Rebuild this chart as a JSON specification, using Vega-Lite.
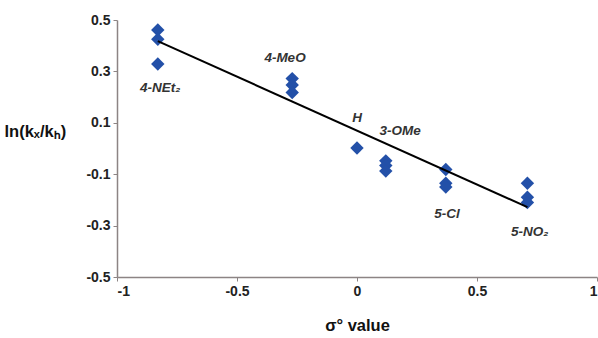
{
  "$schema": "https://vega.github.io/schema/vega-lite/v6.json",
  "width": 480,
  "height": 257,
  "autosize": "none",
  "padding": {"left": 117, "top": 20, "right": 1, "bottom": 61},
  "background": "white",
  "config": {
    "view": {"stroke": null},
    "font": "Liberation Sans",
    "axis": {"grid": false, "domainColor": "#8c8484", "tickColor": "#8c8484", "domainWidth": 1.5, "tickSize": 4, "labelFont": "Liberation Sans", "labelFontWeight": "bold", "labelFontSize": 14, "labelColor": "#222", "titleFont": "Liberation Sans", "titleFontWeight": "bold", "titleColor": "#111"}
  },
  "datasets": {
    "pts": [
      {"sigma": -0.83, "lnk": 0.461, "group": "4-NEt2"},
      {"sigma": -0.83, "lnk": 0.425, "group": "4-NEt2"},
      {"sigma": -0.83, "lnk": 0.329, "group": "4-NEt2"},
      {"sigma": -0.27, "lnk": 0.272, "group": "4-MeO"},
      {"sigma": -0.27, "lnk": 0.247, "group": "4-MeO"},
      {"sigma": -0.27, "lnk": 0.218, "group": "4-MeO"},
      {"sigma": 0.0, "lnk": 0.002, "group": "H"},
      {"sigma": 0.12, "lnk": -0.048, "group": "3-OMe"},
      {"sigma": 0.12, "lnk": -0.066, "group": "3-OMe"},
      {"sigma": 0.12, "lnk": -0.088, "group": "3-OMe"},
      {"sigma": 0.37, "lnk": -0.082, "group": "5-Cl"},
      {"sigma": 0.37, "lnk": -0.135, "group": "5-Cl"},
      {"sigma": 0.37, "lnk": -0.15, "group": "5-Cl"},
      {"sigma": 0.71, "lnk": -0.135, "group": "5-NO2"},
      {"sigma": 0.71, "lnk": -0.19, "group": "5-NO2"},
      {"sigma": 0.71, "lnk": -0.21, "group": "5-NO2"}
    ],
    "fit": [
      {"sigma": -0.83, "lnk": 0.418},
      {"sigma": 0.71, "lnk": -0.228}
    ],
    "labels": [
      {"sigma": -0.82, "lnk": 0.235, "text": "4-NEt₂"},
      {"sigma": -0.3, "lnk": 0.352, "text": "4-MeO"},
      {"sigma": 0.0, "lnk": 0.119, "text": "H"},
      {"sigma": 0.18, "lnk": 0.068, "text": "3-OMe"},
      {"sigma": 0.375, "lnk": -0.255, "text": "5-Cl"},
      {"sigma": 0.72, "lnk": -0.325, "text": "5-NO₂"}
    ]
  },
  "layer": [
    {
      "data": {"name": "pts"},
      "mark": {"type": "point", "shape": "diamond", "filled": true, "size": 180, "color": "#2350a8", "opacity": 1},
      "encoding": {
        "x": {"field": "sigma", "type": "quantitative", "scale": {"domain": [-1, 1], "nice": false, "zero": false},
          "axis": {"values": [-1, -0.5, 0, 0.5, 1], "labelExpr": "replace(format(datum.value, '~g'), '−', '-')", "title": "σ° value", "titleFontSize": 16.5, "titleY": 48, "titleBaseline": "middle", "labelPadding": 3}},
        "y": {"field": "lnk", "type": "quantitative", "scale": {"domain": [-0.5, 0.5], "nice": false, "zero": false},
          "axis": {"values": [-0.5, -0.3, -0.1, 0.1, 0.3, 0.5], "labelExpr": "replace(format(datum.value, '.1f'), '−', '-')", "title": "ln(kₓ/kₕ)", "titleFontSize": 16.5, "titleAngle": 0, "titleAlign": "left", "titleBaseline": "middle", "titleX": -113, "titleY": 111, "labelPadding": 3}}
      }
    },
    {
      "data": {"name": "fit"},
      "mark": {"type": "line", "color": "black", "strokeWidth": 2},
      "encoding": {
        "x": {"field": "sigma", "type": "quantitative"},
        "y": {"field": "lnk", "type": "quantitative"}
      }
    },
    {
      "data": {"name": "labels"},
      "mark": {"type": "text", "fontStyle": "italic", "fontWeight": "bold", "fontSize": 13.5, "color": "#333", "align": "center", "baseline": "middle"},
      "encoding": {
        "x": {"field": "sigma", "type": "quantitative"},
        "y": {"field": "lnk", "type": "quantitative"},
        "text": {"field": "text"}
      }
    }
  ]
}
